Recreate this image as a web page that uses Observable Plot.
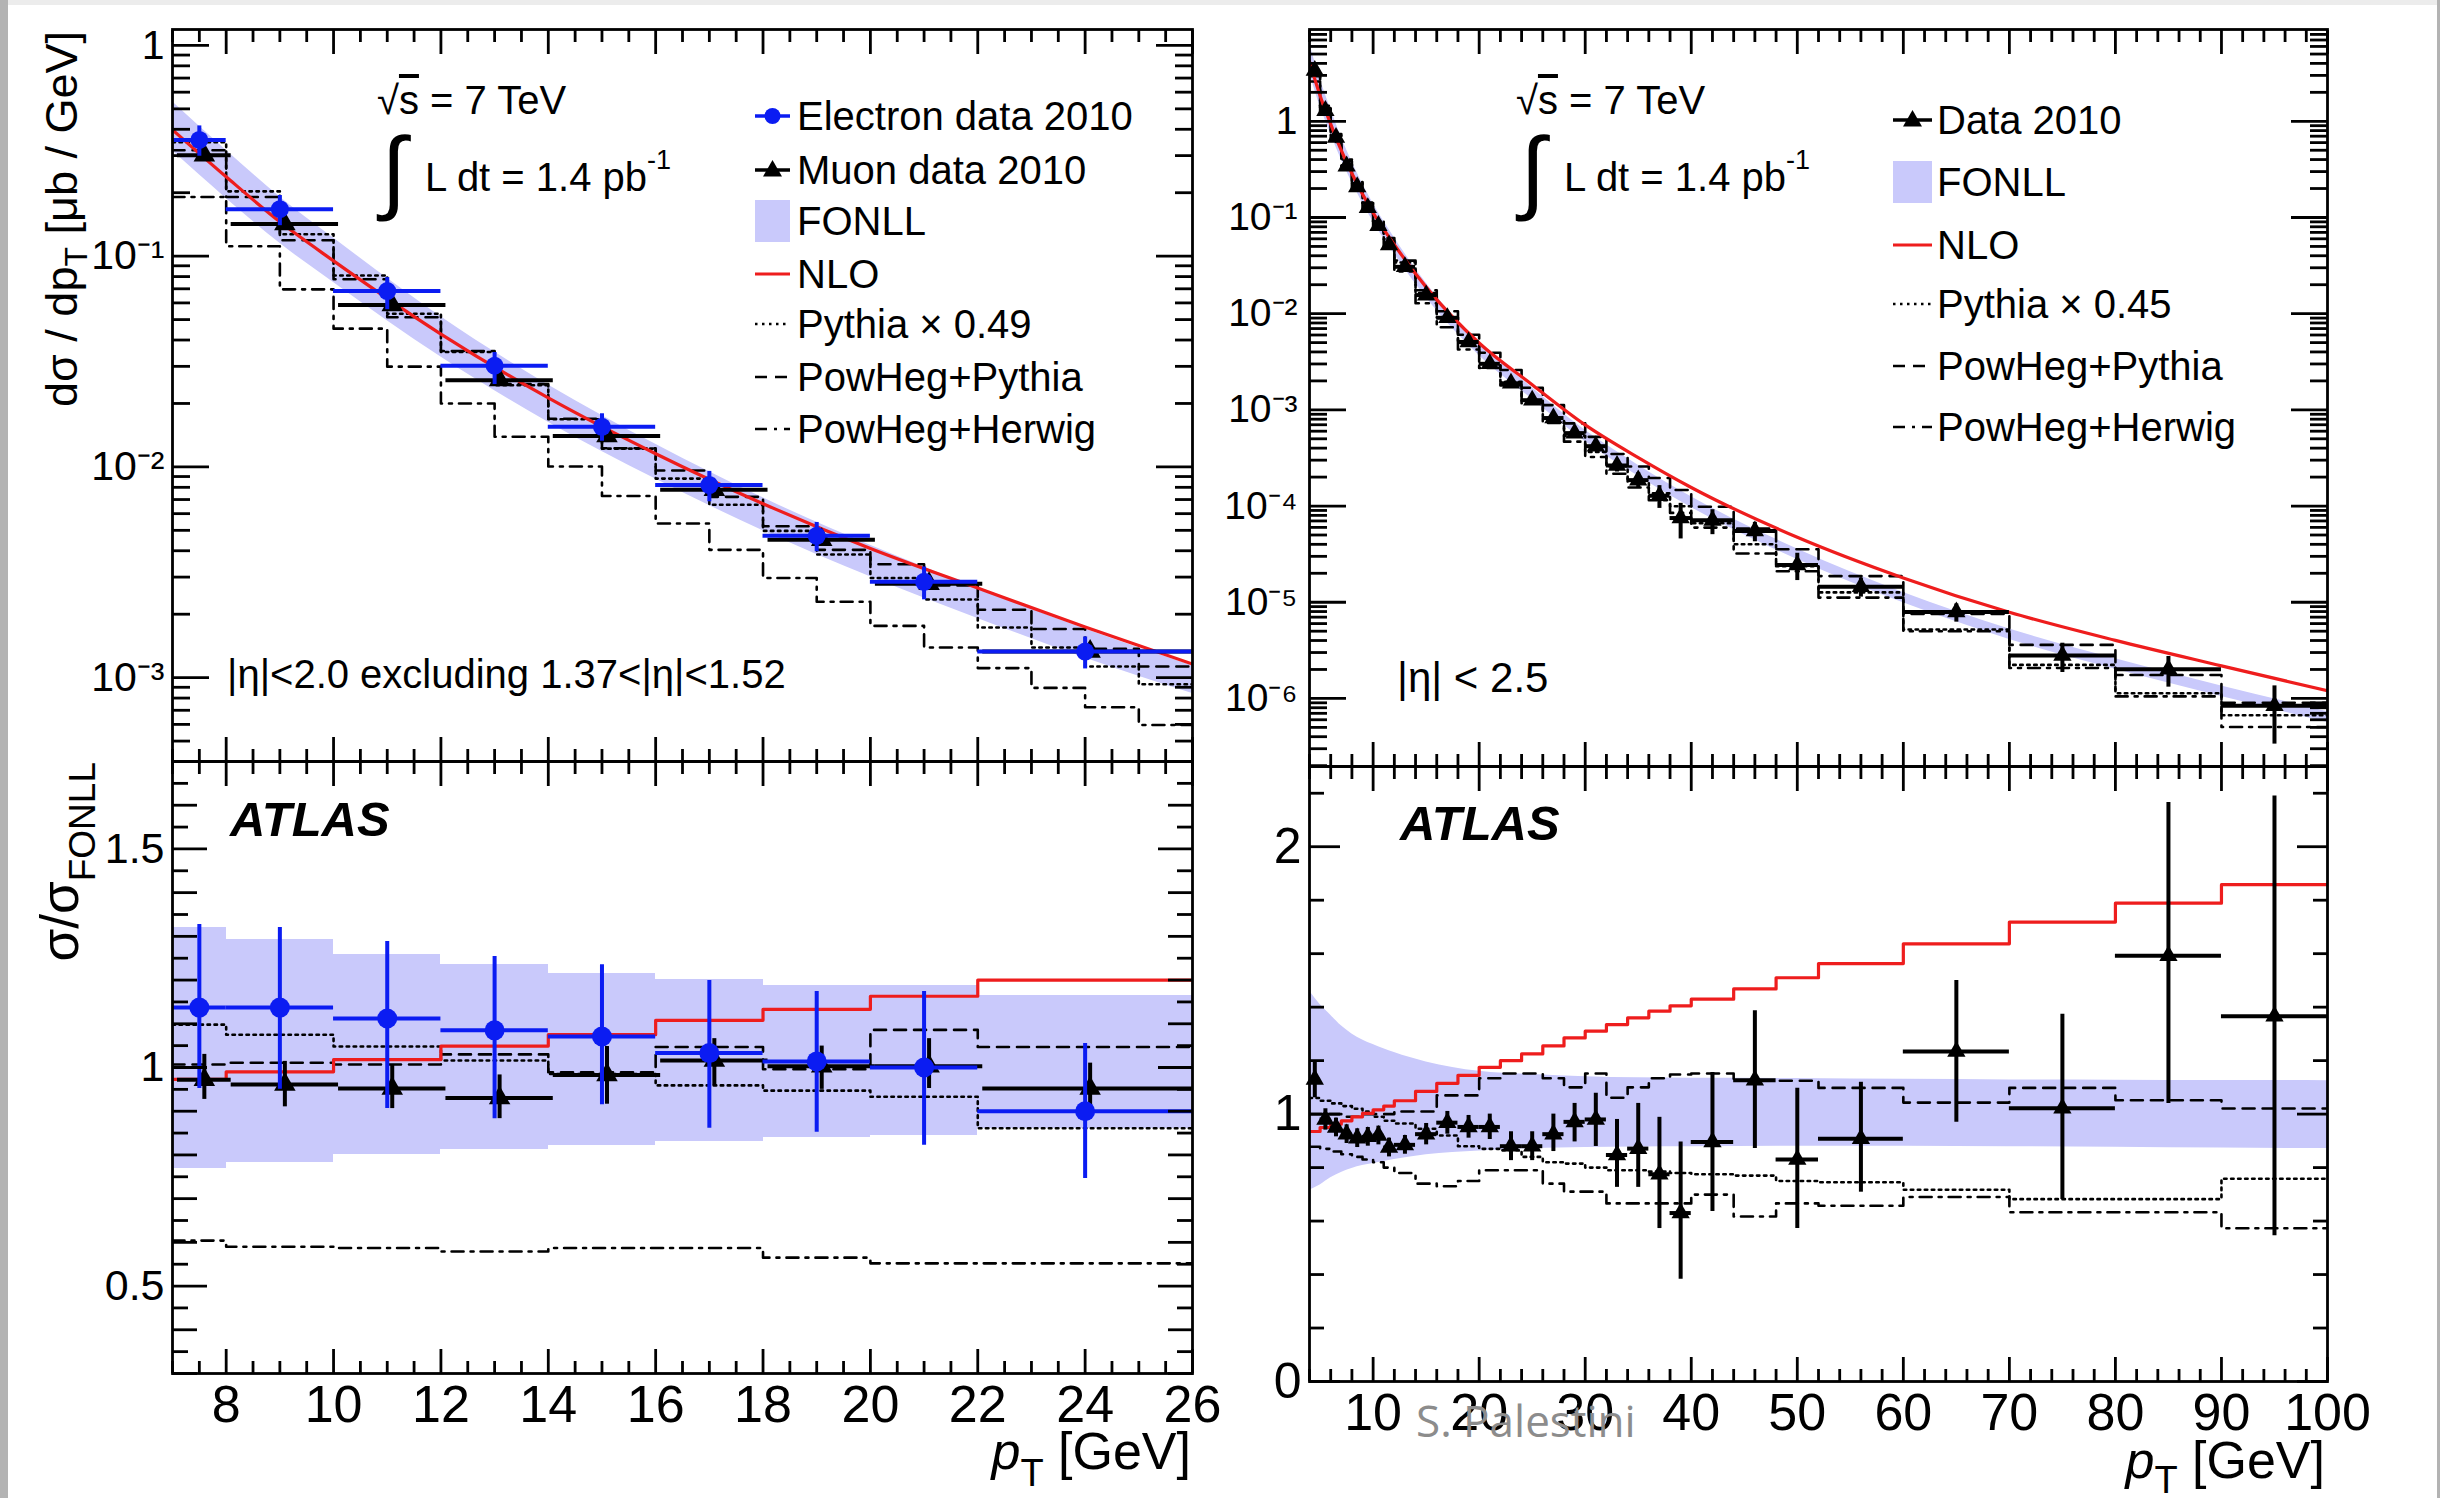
<!DOCTYPE html>
<html><head><meta charset="utf-8">
<script src="https://cdn.jsdelivr.net/npm/d3@7"></script>
<script src="https://cdn.jsdelivr.net/npm/@observablehq/plot@0.6"></script>
<style>
html,body{margin:0;padding:0;background:#fff;}
#page{position:relative;width:2440px;height:1498px;background:#fff;overflow:hidden;font-family:"Liberation Sans",Arial,sans-serif;}
.panel{position:absolute;}
.panel svg{max-width:none !important;}
</style></head><body>
<div id="page"></div>
<script>
// ================= LEFT PANELS: electrons & muons, |eta|<2.0 =================
const lBinLo  = [7, 8, 10, 12, 14, 16, 18, 20, 22];
const lBinHi  = [8, 10, 12, 14, 16, 18, 20, 22, 26];
const lBinMid = [7.5, 9, 11, 13, 15, 17, 19, 21, 24];

const elecXs   = [0.356, 0.167, 0.0683, 0.0302, 0.0155, 0.0082, 0.00471, 0.00285, 0.00133];
const elecXsLo = [0.298, 0.1395, 0.0557, 0.0246, 0.01324, 0.00683, 0.00396, 0.00234, 0.0011];
const elecXsHi = [0.415, 0.194, 0.0791, 0.0349, 0.01787, 0.00952, 0.00545, 0.00335, 0.00156];
const muonXs   = [0.301, 0.142, 0.0586, 0.0258, 0.0140, 0.00778, 0.00451, 0.00279, 0.00133];
const muonXsLo = [0.287, 0.1345, 0.0558, 0.0245, 0.01305, 0.00734, 0.00427, 0.00265, 0.00125];
const muonXsHi = [0.319, 0.1498, 0.062, 0.0273, 0.01493, 0.00816, 0.00472, 0.00297, 0.00141];

const elecRatio   = [1.137, 1.137, 1.112, 1.085, 1.071, 1.033, 1.014, 1.0, 0.90];
const elecRatioLo = [0.952, 0.95, 0.906, 0.883, 0.915, 0.861, 0.852, 0.822, 0.746];
const elecRatioHi = [1.327, 1.32, 1.288, 1.254, 1.235, 1.199, 1.174, 1.174, 1.055];
const muonRatio   = [0.972, 0.961, 0.952, 0.93, 0.983, 1.016, 1.003, 1.003, 0.952];
const muonRatioLo = [0.927, 0.91, 0.906, 0.883, 0.916, 0.958, 0.95, 0.952, 0.895];
const muonRatioHi = [1.03, 1.014, 1.007, 0.983, 1.048, 1.066, 1.049, 1.066, 1.01];

const lFonllRatioLo = [0.77, 0.783, 0.80, 0.812, 0.822, 0.83, 0.84, 0.845, 0.861];
const lFonllRatioHi = [1.32, 1.293, 1.259, 1.235, 1.215, 1.202, 1.188, 1.188, 1.165];
const lNloRatio     = [0.973, 0.99, 1.018, 1.049, 1.075, 1.108, 1.133, 1.163, 1.2];
const lPythiaRatio  = [1.098, 1.075, 1.048, 1.016, 0.985, 0.959, 0.947, 0.933, 0.861];
const lPowPyRatio   = [1.007, 1.011, 1.007, 1.03, 0.989, 1.047, 0.996, 1.086, 1.047];
const lPowHwRatio   = [0.604, 0.59, 0.587, 0.579, 0.587, 0.587, 0.565, 0.552, 0.552];

// smooth theory curves, top-left
const tlCurvePt  = [7, 8, 9, 10, 12, 14, 16, 18, 20, 22, 24, 26];
const tlFonllHi  = [0.541, 0.318, 0.191, 0.122, 0.0516, 0.0245, 0.0128, 0.00713, 0.00425, 0.00266, 0.0017, 0.00114];
const tlFonllLo  = [0.316, 0.188, 0.115, 0.075, 0.0332, 0.0163, 0.00876, 0.00498, 0.00301, 0.00191, 0.00124, 0.00084];
const tlNlo      = [0.398, 0.238, 0.1455, 0.095, 0.0427, 0.02124, 0.01155, 0.00669, 0.0041, 0.00266, 0.00174, 0.00116];

// MC histograms, top-left (1 GeV bins)
const tlMcLo = [7, 8, 9, 10, 11, 12, 13, 14, 15, 16, 17, 18, 19, 20, 21, 22, 23, 24, 25];
const tlMcHi = [8, 9, 10, 11, 12, 13, 14, 15, 16, 17, 18, 19, 20, 21, 22, 23, 24, 25, 26];
const tlPythia = [0.347, 0.203, 0.127, 0.0809, 0.0533, 0.0351, 0.0244, 0.01684, 0.01221, 0.0088, 0.00661, 0.00497, 0.00384, 0.00297, 0.00235, 0.00173, 0.00139, 0.00113, 0.00093];
const tlPowPy  = [0.318, 0.191, 0.119, 0.0777, 0.0513, 0.0355, 0.0247, 0.01691, 0.01226, 0.00961, 0.00721, 0.00523, 0.00404, 0.00345, 0.00274, 0.0021, 0.0017, 0.00137, 0.00113];
const tlPowHw  = [0.191, 0.1115, 0.0696, 0.0453, 0.0299, 0.02, 0.0139, 0.01004, 0.00728, 0.00539, 0.00404, 0.00297, 0.00229, 0.00176, 0.00139, 0.00111, 0.000894, 0.000723, 0.000596];

// ================= RIGHT PANELS: muons, |eta|<2.5 =================
const rBinLo  = [4, 5, 6, 7, 8, 9, 10, 11, 12, 14, 16, 18, 20, 22, 24, 26, 28, 30, 32, 34, 36, 38, 40, 44, 48, 52, 60, 70, 80, 90];
const rBinHi  = [5, 6, 7, 8, 9, 10, 11, 12, 14, 16, 18, 20, 22, 24, 26, 28, 30, 32, 34, 36, 38, 40, 44, 48, 52, 60, 70, 80, 90, 100];
const rBinMid = [4.5, 5.5, 6.5, 7.5, 8.5, 9.5, 10.5, 11.5, 13, 15, 17, 19, 21, 23, 25, 27, 29, 31, 33, 35, 37, 39, 42, 46, 50, 56, 65, 75, 85, 95];

const rDataXs   = [3.37, 1.29, 0.679, 0.342, 0.208, 0.126, 0.0822, 0.0517, 0.0307, 0.0156, 0.00906, 0.00508, 0.00301, 0.00189, 0.00126, 0.000822, 0.000573, 0.000419, 0.000264, 0.000186, 0.000128, 7.5e-5, 7.1e-5, 5.5e-5, 2.44e-5, 1.45e-5, 7.9e-6, 2.79e-6, 2.01e-6, 8.4e-7];
const rDataXsLo = [3.164, 1.237, 0.654, 0.329, 0.2, 0.1212, 0.0791, 0.0496, 0.0295, 0.01493, 0.00866, 0.00486, 0.00286, 0.001775, 0.001183, 0.000764, 0.000529, 0.000376, 0.000226, 0.000155, 9.45e-5, 4.55e-5, 5.04e-5, 4.25e-5, 1.68e-5, 1.131e-5, 6.21e-6, 1.86e-6, 1.31e-6, 3.35e-7];
const rDataXsHi = [3.57, 1.343, 0.704, 0.355, 0.216, 0.1308, 0.0853, 0.0538, 0.0319, 0.01627, 0.00945, 0.00531, 0.00316, 0.002005, 0.001337, 0.000889, 0.000614, 0.000461, 0.000305, 0.000222, 0.000163, 0.0001067, 9.16e-5, 6.77e-5, 3.23e-5, 1.786e-5, 9.6e-6, 3.75e-6, 2.73e-6, 1.35e-6];

const rRatio   = [1.13, 0.98, 0.95, 0.925, 0.91, 0.915, 0.92, 0.875, 0.885, 0.925, 0.968, 0.952, 0.952, 0.88, 0.88, 0.925, 0.971, 0.98, 0.847, 0.871, 0.775, 0.63, 0.896, 1.127, 0.83, 0.908, 1.234, 1.022, 1.592, 1.366];
const rRatioLo = [1.061, 0.94, 0.915, 0.89, 0.875, 0.88, 0.885, 0.84, 0.85, 0.885, 0.925, 0.91, 0.905, 0.826, 0.826, 0.86, 0.896, 0.879, 0.726, 0.726, 0.572, 0.382, 0.636, 0.871, 0.572, 0.708, 0.97, 0.681, 1.04, 0.545];
const rRatioHi = [1.197, 1.02, 0.985, 0.96, 0.945, 0.95, 0.955, 0.91, 0.92, 0.965, 1.01, 0.995, 1.0, 0.934, 0.934, 1.0, 1.04, 1.078, 0.98, 1.04, 0.988, 0.896, 1.156, 1.387, 1.097, 1.119, 1.5, 1.373, 2.165, 2.19];

const rNloRatio    = [0.935, 0.95, 0.962, 0.975, 0.99, 1.003, 1.016, 1.03, 1.05, 1.085, 1.115, 1.145, 1.175, 1.2, 1.225, 1.255, 1.285, 1.31, 1.335, 1.36, 1.385, 1.405, 1.43, 1.468, 1.51, 1.563, 1.637, 1.718, 1.789, 1.858];
const rPythiaRatio = [1.06, 1.05, 1.04, 1.03, 1.02, 1.01, 0.99, 0.975, 0.965, 0.945, 0.92, 0.88, 0.87, 0.865, 0.84, 0.82, 0.815, 0.80, 0.79, 0.79, 0.785, 0.78, 0.775, 0.77, 0.75, 0.745, 0.717, 0.682, 0.682, 0.758];
const rPowPyRatio  = [1.0, 1.0, 1.0, 0.99, 0.99, 1.0, 1.0, 1.0, 1.01, 1.01, 1.07, 1.07, 1.134, 1.152, 1.152, 1.134, 1.10, 1.152, 1.061, 1.1, 1.134, 1.148, 1.152, 1.125, 1.125, 1.098, 1.043, 1.098, 1.052, 1.021];
const rPowHwRatio  = [0.878, 0.87, 0.86, 0.85, 0.84, 0.83, 0.82, 0.80, 0.78, 0.74, 0.73, 0.75, 0.79, 0.79, 0.79, 0.74, 0.71, 0.71, 0.666, 0.666, 0.666, 0.666, 0.699, 0.617, 0.666, 0.657, 0.69, 0.633, 0.633, 0.573];

// MC histograms, top-right (same bins as data)
const trPythia = [3.13, 1.449, 0.736, 0.401, 0.234, 0.1426, 0.0902, 0.0596, 0.034, 0.0164, 0.00912, 0.00497, 0.00301, 0.001954, 0.001242, 0.000809, 0.000536, 0.000364, 0.000258, 0.000185, 0.000136, 9.95e-5, 6.62e-5, 4.0e-5, 2.37e-5, 1.265e-5, 5.2e-6, 2.23e-6, 1.13e-6, 6.68e-7];
const trPowPy  = [2.95, 1.38, 0.708, 0.385, 0.227, 0.141, 0.091, 0.0611, 0.0356, 0.01754, 0.0106, 0.00604, 0.00392, 0.0026, 0.0017, 0.00112, 0.000723, 0.000524, 0.000347, 0.000258, 0.000196, 0.000147, 9.84e-5, 5.85e-5, 3.56e-5, 1.87e-5, 7.55e-6, 3.6e-6, 1.75e-6, 9.0e-7];
const trPowHw  = [2.59, 1.202, 0.608, 0.330, 0.192, 0.1172, 0.0746, 0.0489, 0.0275, 0.01285, 0.00723, 0.00424, 0.00273, 0.00179, 0.00117, 0.000729, 0.000467, 0.000323, 0.000217, 0.000156, 0.000115, 8.49e-5, 5.97e-5, 3.21e-5, 2.1e-5, 1.117e-5, 5.0e-6, 2.07e-6, 1.05e-6, 5.05e-7];

// smooth theory curves, right panels
const rCurvePt   = [4, 5, 6, 7, 8, 10, 12, 15, 20, 25, 30, 35, 40, 50, 60, 70, 80, 90, 100];
const trFonllHi  = [6.53, 2.75, 1.338, 0.682, 0.380, 0.140, 0.0616, 0.0208, 0.00495, 0.0017, 0.000612, 0.000266, 0.000125, 3.58e-5, 1.266e-5, 5.28e-6, 2.58e-6, 1.35e-6, 7.27e-7];
const trFonllLo  = [3.2, 1.433, 0.744, 0.401, 0.233, 0.0905, 0.0416, 0.01476, 0.00368, 0.00129, 0.00047, 0.000205, 9.66e-5, 2.78e-5, 9.86e-6, 4.11e-6, 2.01e-6, 1.05e-6, 5.63e-7];
const trNlo      = [4.17, 1.843, 0.935, 0.498, 0.287, 0.112, 0.0521, 0.01888, 0.00495, 0.001825, 0.000698, 0.000319, 0.000156, 4.74e-5, 1.79e-5, 7.86e-6, 4.01e-6, 2.18e-6, 1.2e-6];
const brFonllHi  = [1.46, 1.41, 1.37, 1.33, 1.30, 1.26, 1.23, 1.195, 1.16, 1.148, 1.14, 1.136, 1.134, 1.133, 1.13, 1.128, 1.127, 1.126, 1.125];
const brFonllLo  = [0.715, 0.735, 0.762, 0.782, 0.797, 0.815, 0.83, 0.848, 0.862, 0.871, 0.875, 0.877, 0.878, 0.88, 0.88, 0.878, 0.876, 0.873, 0.871];

// tick labels
const lXLabels  = [8, 10, 12, 14, 16, 18, 20, 22, 24, 26];
const rXLabels  = [10, 20, 30, 40, 50, 60, 70, 80, 90, 100];
const tlYTicks  = [1e-3, 1e-2, 1e-1, 1];
const tlYLabels = ["10⁻³", "10⁻²", "10⁻¹", "1"];
const trYTicks  = [1e-6, 1e-5, 1e-4, 1e-3, 1e-2, 1e-1, 1];
const trYLabels = ["10⁻⁶", "10⁻⁵", "10⁻⁴", "10⁻³", "10⁻²", "10⁻¹", "1"];
const blYTicks  = [0.5, 1, 1.5];
const blYLabels = ["0.5", "1", "1.5"];
const brYTicks  = [0, 1, 2];
const brYLabels = ["0", "1", "2"];

// ================= styles =================
const FONT = '"Liberation Sans", Arial, Helvetica, sans-serif';
const BAND = "#c9c9fb";
const RED = "#ee1d1d";
const BLUE = "#0b1cf2";
const DOT = "2.5,4.5", DASH = "12,8", DASHDOT = "12,7,3,7";

const stepRows = (lo, hi, v) => lo.flatMap((l, i) => [{x: l, y: v[i]}, {x: hi[i], y: v[i]}]);
const r3 = v => Math.round(v * 1000) / 1000;

function logMinor(lo, hi) {
  const out = [];
  for (let e = -8; e <= 1; e++) for (let k = 2; k <= 9; k++) {
    const v = k * Math.pow(10, e);
    if (v > lo && v < hi) out.push(v);
  }
  return out;
}
function linTicks(a, b, step) {
  const out = [];
  for (let v = a; v <= b + 1e-9; v += step) out.push(r3(v));
  return out;
}

function frameTicks({xMajor, xMinor, yMajor, yMid = [], yMinor, yLen = [37, 25, 18]}) {
  const m = [];
  const sw = 2.8;
  for (const anchor of ["top", "bottom"]) {
    m.push(Plot.axisX(xMajor, {anchor, tickSize: -24, tickFormat: () => "", label: null, strokeWidth: sw}));
    m.push(Plot.axisX(xMinor, {anchor, tickSize: -12, tickFormat: () => "", label: null, strokeWidth: sw}));
  }
  for (const anchor of ["left", "right"]) {
    m.push(Plot.axisY(yMajor, {anchor, tickSize: -yLen[0], tickFormat: () => "", label: null, strokeWidth: sw}));
    if (yMid.length) m.push(Plot.axisY(yMid, {anchor, tickSize: -yLen[1], tickFormat: () => "", label: null, strokeWidth: sw}));
    m.push(Plot.axisY(yMinor, {anchor, tickSize: -yLen[2], tickFormat: () => "", label: null, strokeWidth: sw}));
  }
  return m;
}
const baseStyle = {fontFamily: FONT, overflow: "visible", background: "transparent", color: "black"};

function histLines(lo, hi, py, pp, ph) {
  return [
    Plot.line(stepRows(lo, hi, ph), {x: "x", y: "y", stroke: "black", strokeWidth: 2.6, strokeDasharray: DASHDOT, clip: true}),
    Plot.line(stepRows(lo, hi, py), {x: "x", y: "y", stroke: "black", strokeWidth: 2.6, strokeDasharray: DOT, clip: true}),
    Plot.line(stepRows(lo, hi, pp), {x: "x", y: "y", stroke: "black", strokeWidth: 2.6, strokeDasharray: DASH, clip: true})
  ];
}
function dataMarks(rows, {y, yLo, yHi, color, symbol, r, dx = 0}) {
  return [
    Plot.ruleY(rows, {y, x1: "lo", x2: "hi", dx, stroke: color, strokeWidth: 4, clip: true}),
    Plot.ruleX(rows, {x: "mid", y1: yLo, y2: yHi, dx, stroke: color, strokeWidth: 4, clip: true}),
    Plot.dot(rows, {x: "mid", y, dx, symbol, r, fill: color, stroke: null})
  ];
}

const lRows = lBinMid.map((mid, i) => ({
  mid, lo: lBinLo[i], hi: lBinHi[i],
  e: elecXs[i], eLo: elecXsLo[i], eHi: elecXsHi[i],
  m: muonXs[i], mLo: muonXsLo[i], mHi: muonXsHi[i],
  er: elecRatio[i], erLo: elecRatioLo[i], erHi: elecRatioHi[i],
  mr: muonRatio[i], mrLo: muonRatioLo[i], mrHi: muonRatioHi[i],
  bLo: lFonllRatioLo[i], bHi: lFonllRatioHi[i]
}));
const rRows = rBinMid.map((mid, i) => ({
  mid, lo: rBinLo[i], hi: rBinHi[i],
  v: rDataXs[i], vLo: rDataXsLo[i], vHi: rDataXsHi[i],
  r: rRatio[i], rLo: rRatioLo[i], rHi: rRatioHi[i]
}));
const tlCurve = tlCurvePt.map((pt, i) => ({pt, lo: tlFonllLo[i], hi: tlFonllHi[i], nlo: tlNlo[i]}));
const rCurve = rCurvePt.map((pt, i) => ({pt, lo: trFonllLo[i], hi: trFonllHi[i], nlo: trNlo[i], blo: brFonllLo[i], bhi: brFonllHi[i]}));

const lXMinor = linTicks(7, 26, 0.5).filter(v => !lXLabels.includes(v));
const rXMinor = linTicks(4, 100, 2).filter(v => !rXLabels.includes(v));

// ---------- top-left ----------
const tl = Plot.plot({
  width: 1220, height: 761, marginLeft: 172, marginRight: 28, marginTop: 29, marginBottom: 0,
  x: {domain: [7, 26]}, y: {type: "log", domain: [4e-4, 1.19]},
  style: baseStyle,
  marks: [
    Plot.areaY(tlCurve, {x: "pt", y1: "lo", y2: "hi", fill: BAND, curve: "monotone-x", clip: true}),
    ...histLines(tlMcLo, tlMcHi, tlPythia, tlPowPy, tlPowHw),
    Plot.line(tlCurve, {x: "pt", y: "nlo", stroke: RED, strokeWidth: 3.2, curve: "monotone-x", clip: true}),
    ...dataMarks(lRows, {y: "m", yLo: "mLo", yHi: "mHi", color: "black", symbol: "triangle", r: 8, dx: 5}),
    ...dataMarks(lRows, {y: "e", yLo: "eLo", yHi: "eHi", color: BLUE, symbol: "circle", r: 9}),
    Plot.frame({stroke: "black", strokeWidth: 2.8}),
    ...frameTicks({xMajor: lXLabels, xMinor: lXMinor, yMajor: tlYTicks, yMinor: logMinor(4e-4, 1.19)}),
    Plot.axisY(tlYTicks, {anchor: "left", tickSize: 0, tickPadding: 8, fontSize: 41, label: null,
      tickFormat: d => tlYLabels[tlYTicks.indexOf(d)]})
  ]
});

// ---------- bottom-left ----------
const bl = Plot.plot({
  width: 1220, height: 737, marginLeft: 172, marginRight: 28, marginTop: 0, marginBottom: 125,
  x: {domain: [7, 26]}, y: {domain: [0.3, 1.7]},
  style: baseStyle,
  marks: [
    Plot.rect(lRows, {x1: "lo", x2: "hi", y1: "bLo", y2: "bHi", fill: BAND, shapeRendering: "crispEdges"}),
    ...histLines(lBinLo, lBinHi, lPythiaRatio, lPowPyRatio, lPowHwRatio),
    Plot.line(stepRows(lBinLo, lBinHi, lNloRatio), {x: "x", y: "y", stroke: RED, strokeWidth: 3.2, clip: true}),
    ...dataMarks(lRows, {y: "mr", yLo: "mrLo", yHi: "mrHi", color: "black", symbol: "triangle", r: 8, dx: 5}),
    ...dataMarks(lRows, {y: "er", yLo: "erLo", yHi: "erHi", color: BLUE, symbol: "circle", r: 10}),
    Plot.frame({stroke: "black", strokeWidth: 2.8}),
    ...frameTicks({xMajor: lXLabels, xMinor: lXMinor, yMajor: blYTicks,
      yMid: linTicks(0.3, 1.7, 0.1).filter(v => !blYTicks.includes(v)),
      yMinor: linTicks(0.35, 1.65, 0.1), yLen: [35, 25, 16]}),
    Plot.axisY(blYTicks, {anchor: "left", tickSize: 0, tickPadding: 8, fontSize: 43, label: null,
      tickFormat: d => blYLabels[blYTicks.indexOf(d)]}),
    Plot.axisX(lXLabels, {anchor: "bottom", tickSize: 0, tickPadding: 12, fontSize: 52, label: null, tickFormat: d => String(d)})
  ]
});

// ---------- top-right ----------
const tr = Plot.plot({
  width: 1220, height: 766, marginLeft: 89, marginRight: 113, marginTop: 29, marginBottom: 0,
  x: {domain: [4, 100]}, y: {type: "log", domain: [1.96e-7, 9.0]},
  style: baseStyle,
  marks: [
    Plot.areaY(rCurve, {x: "pt", y1: "lo", y2: "hi", fill: BAND, curve: "monotone-x", clip: true}),
    ...histLines(rBinLo, rBinHi, trPythia, trPowPy, trPowHw),
    Plot.line(rCurve, {x: "pt", y: "nlo", stroke: RED, strokeWidth: 3.2, curve: "monotone-x", clip: true}),
    ...dataMarks(rRows, {y: "v", yLo: "vLo", yHi: "vHi", color: "black", symbol: "triangle", r: 6.8}),
    Plot.frame({stroke: "black", strokeWidth: 2.8}),
    ...frameTicks({xMajor: rXLabels, xMinor: rXMinor, yMajor: trYTicks, yMinor: logMinor(1.96e-7, 9.0)}),
    Plot.axisY(trYTicks, {anchor: "left", tickSize: 0, tickPadding: 12, fontSize: 39, label: null,
      tickFormat: d => trYLabels[trYTicks.indexOf(d)]})
  ]
});

// ---------- bottom-right ----------
const br = Plot.plot({
  width: 1220, height: 732, marginLeft: 89, marginRight: 113, marginTop: 0, marginBottom: 117,
  x: {domain: [4, 100]}, y: {domain: [0, 2.3]},
  style: baseStyle,
  marks: [
    Plot.areaY(rCurve, {x: "pt", y1: "blo", y2: "bhi", fill: BAND, curve: "monotone-x", clip: true}),
    ...histLines(rBinLo, rBinHi, rPythiaRatio, rPowPyRatio, rPowHwRatio),
    Plot.line(stepRows(rBinLo, rBinHi, rNloRatio), {x: "x", y: "y", stroke: RED, strokeWidth: 3.2, clip: true}),
    ...dataMarks(rRows, {y: "r", yLo: "rLo", yHi: "rHi", color: "black", symbol: "triangle", r: 6.8}),
    Plot.frame({stroke: "black", strokeWidth: 2.8}),
    ...frameTicks({xMajor: rXLabels, xMinor: rXMinor, yMajor: brYTicks,
      yMinor: linTicks(0.2, 2.2, 0.2).filter(v => !brYTicks.includes(v)), yLen: [31, 20, 15]}),
    Plot.axisY(brYTicks, {anchor: "left", tickSize: 0, tickPadding: 8, fontSize: 50, label: null,
      tickFormat: d => brYLabels[brYTicks.indexOf(d)]}),
    Plot.axisX(rXLabels, {anchor: "bottom", tickSize: 0, tickPadding: 12, fontSize: 52, label: null, tickFormat: d => String(d)})
  ]
});

const page = document.getElementById("page");
function place(svg, left, top) {
  const d = document.createElement("div");
  d.className = "panel";
  d.style.left = left + "px"; d.style.top = top + "px";
  d.appendChild(svg);
  page.appendChild(d);
}
place(tl, 0, 0); place(bl, 0, 761); place(tr, 1220, 0); place(br, 1220, 766);

// ---------- annotations, titles and legends ----------
const tri = (x, y, s) => `<path d="M${x},${y - s} L${x + s * 0.95},${y + s * 0.65} L${x - s * 0.95},${y + s * 0.65} Z" fill="black"/>`;
function legendRows(x0, x1, textX, rows) {
  return rows.map(([y, kind, label]) => {
    let sym = "";
    const xm = (x0 + x1) / 2;
    if (kind === "elec") sym = `<line x1="${x0}" x2="${x1}" y1="${y}" y2="${y}" stroke="${BLUE}" stroke-width="3.5"/><circle cx="${xm}" cy="${y}" r="8" fill="${BLUE}"/>`;
    if (kind === "muon") sym = `<line x1="${x0}" x2="${x1}" y1="${y}" y2="${y}" stroke="black" stroke-width="3.5"/>` + tri(xm, y, 10);
    if (kind === "band") sym = `<rect x="${x0}" y="${y - 21}" width="${x1 - x0}" height="42" fill="${BAND}"/>`;
    if (kind === "nlo") sym = `<line x1="${x0}" x2="${x1}" y1="${y}" y2="${y}" stroke="${RED}" stroke-width="3.2"/>`;
    if (kind === "dot") sym = `<line x1="${x0}" x2="${x1}" y1="${y}" y2="${y}" stroke="black" stroke-width="2.6" stroke-dasharray="${DOT}"/>`;
    if (kind === "dash") sym = `<line x1="${x0}" x2="${x1}" y1="${y}" y2="${y}" stroke="black" stroke-width="2.6" stroke-dasharray="${DASH}"/>`;
    if (kind === "dashdot") sym = `<line x1="${x0}" x2="${x1}" y1="${y}" y2="${y}" stroke="black" stroke-width="2.6" stroke-dasharray="${DASHDOT}"/>`;
    return sym + `<text x="${textX}" y="${y + 14}" font-size="40">${label}</text>`;
  }).join("");
}
const lumi = (x, xi) => `
  <text x="${x}" y="114" font-size="40">√<tspan style="text-decoration:overline">s</tspan> = 7 TeV</text>
  <text x="${xi}" y="202" font-size="92">∫</text>
  <text x="${xi + 44}" y="191" font-size="40">L dt = 1.4 pb<tspan font-size="27" dy="-22">-1</tspan></text>`;

const overlay = `
<svg width="2440" height="1498" style="position:absolute;left:0;top:0;pointer-events:none;font-family:${FONT.replace(/"/g, "'")}">
  <rect x="0" y="0" width="2440" height="5" fill="#ececec"/>
  <rect x="0" y="0" width="8" height="1498" fill="#b3b3b3"/>
  <rect x="2437" y="0" width="3" height="1498" fill="#b3b3b3"/>
  <text transform="translate(77,31) rotate(-90)" text-anchor="end" font-size="45">dσ / dp<tspan font-size="32" dy="10">T</tspan><tspan dy="-10">  [μb / GeV]</tspan></text>
  <text transform="translate(78,762) rotate(-90)" text-anchor="end" font-size="53">σ/σ<tspan font-size="37" dy="17">FONLL</tspan></text>
  <text x="1191" y="1469" text-anchor="end" font-size="52"><tspan font-style="italic">p</tspan><tspan font-size="38" dy="17">T</tspan><tspan dy="-17"> [GeV]</tspan></text>
  <text x="2325" y="1478" text-anchor="end" font-size="52"><tspan font-style="italic">p</tspan><tspan font-size="38" dy="15">T</tspan><tspan dy="-15"> [GeV]</tspan></text>
  ${lumi(377, 381)}
  ${lumi(1516, 1520)}
  <text x="227" y="688" font-size="40">|η|&lt;2.0 excluding 1.37&lt;|η|&lt;1.52</text>
  <text x="1397" y="692" font-size="42">|η| &lt; 2.5</text>
  <text x="230" y="836" font-size="49" font-weight="bold" font-style="italic">ATLAS</text>
  <text x="1400" y="840" font-size="49" font-weight="bold" font-style="italic">ATLAS</text>
  ${legendRows(755, 790, 797, [[116, "elec", "Electron data 2010"], [170, "muon", "Muon data 2010"], [221, "band", "FONLL"], [274, "nlo", "NLO"], [324, "dot", "Pythia × 0.49"], [377, "dash", "PowHeg+Pythia"], [429, "dashdot", "PowHeg+Herwig"]])}
  ${legendRows(1893, 1932, 1937, [[120, "muon", "Data 2010"], [182, "band", "FONLL"], [245, "nlo", "NLO"], [304, "dot", "Pythia × 0.45"], [366, "dash", "PowHeg+Pythia"], [427, "dashdot", "PowHeg+Herwig"]])}
  <text x="1416" y="1437" font-size="44" fill="#8c8c8c" style="font-family:'Open Sans',sans-serif">S. Palestini</text>
</svg>`;
page.insertAdjacentHTML("beforeend", overlay);
</script></body></html>
